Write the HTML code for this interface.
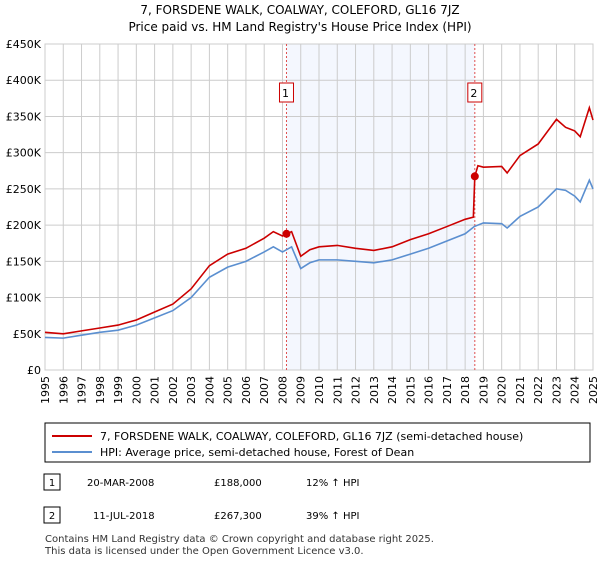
<!DOCTYPE html>
<html><head><meta charset="utf-8"><style>
body{margin:0;background:#fff;font-family:"Liberation Sans","DejaVu Sans",sans-serif;}
svg text{font-family:"DejaVu Sans","Liberation Sans",sans-serif;}
</style></head><body>
<svg id="c" width="600" height="560">
<text x="300" y="14" text-anchor="middle" font-size="12">7, FORSDENE WALK, COALWAY, COLEFORD, GL16 7JZ</text>
<text x="300" y="31" text-anchor="middle" font-size="12">Price paid vs. HM Land Registry's House Price Index (HPI)</text>
<g id="plot"></g>
<rect x="45" y="423" width="545" height="39" fill="#fff" stroke="#000" stroke-width="1"/>
<line x1="52" y1="436" x2="92" y2="436" stroke="#cc0000" stroke-width="2"/>
<text x="100" y="440" font-size="11">7, FORSDENE WALK, COALWAY, COLEFORD, GL16 7JZ (semi-detached house)</text>
<line x1="52" y1="452" x2="92" y2="452" stroke="#5b8fd0" stroke-width="2"/>
<text x="100" y="456" font-size="11">HPI: Average price, semi-detached house, Forest of Dean</text>
<rect x="44" y="474" width="16" height="16" fill="#fff" stroke="#000"/>
<text x="52" y="486" font-size="10" text-anchor="middle">1</text>
<text x="87" y="486" font-size="10">20-MAR-2008</text>
<text x="214" y="486" font-size="10">£188,000</text>
<text x="306" y="486" font-size="10">12% ↑ HPI</text>
<rect x="44" y="507" width="16" height="16" fill="#fff" stroke="#000"/>
<text x="52" y="519" font-size="10" text-anchor="middle">2</text>
<text x="93" y="519" font-size="10">11-JUL-2018</text>
<text x="214" y="519" font-size="10">£267,300</text>
<text x="306" y="519" font-size="10">39% ↑ HPI</text>
<text x="45" y="542" font-size="10" fill="#333">Contains HM Land Registry data © Crown copyright and database right 2025.</text>
<text x="45" y="554" font-size="10" fill="#333">This data is licensed under the Open Government Licence v3.0.</text>
</svg>
<script>
const hpiYears=[1995,1996,1997,1998,1999,2000,2001,2002,2003,2004,2005,2006,2007,2007.5,2008,2008.5,2009,2009.5,2010,2011,2012,2013,2014,2015,2016,2017,2018,2018.5,2019,2020,2020.3,2021,2022,2023,2023.5,2024,2024.3,2024.8,2025];
const hpiValues=[45,44,48,52,55,62,72,82,100,128,142,150,163,170,163,170,140,148,152,152,150,148,152,160,168,178,188,198,203,202,196,212,225,250,248,240,232,262,250];
const redYears=[1995,1996,1997,1998,1999,2000,2001,2002,2003,2004,2005,2006,2007,2007.5,2008,2008.22,2008.5,2009,2009.5,2010,2011,2012,2013,2014,2015,2016,2017,2018,2018.45,2018.53,2018.7,2019,2020,2020.3,2021,2022,2023,2023.5,2024,2024.3,2024.8,2025];
const redValues=[52,50,54,58,62,69,80,91,112,144,160,168,182,191,185,188,191,157,166,170,172,168,165,170,180,188,198,208,211,267.3,282,280,281,272,296,312,346,335,330,322,362,345];
const saleYears=[2008.22,2018.53];
const saleValues=[188,267.3];
const saleLabels=["1","2"];
const yTicks=[0,50,100,150,200,250,300,350,400,450];
const yTickLabels=["£0","£50K","£100K","£150K","£200K","£250K","£300K","£350K","£400K","£450K"];
const xTicks=[1995,1996,1997,1998,1999,2000,2001,2002,2003,2004,2005,2006,2007,2008,2009,2010,2011,2012,2013,2014,2015,2016,2017,2018,2019,2020,2021,2022,2023,2024,2025];
const X0=45,X1=593,Y0=370,Y1=44;
const xs=y=>X0+(y-1995)/30*(X1-X0);
const ys=v=>Y0-v/450*(Y0-Y1);
const NS="http://www.w3.org/2000/svg";
const g=document.getElementById('plot');
function mk(t,a){const e=document.createElementNS(NS,t);for(const k in a)e.setAttribute(k,a[k]);g.appendChild(e);return e;}
const shade=mk('rect',{x:xs(saleYears[0]),y:Y1,width:xs(saleYears[1])-xs(saleYears[0]),height:Y0-Y1,fill:'#f4f7fe'});


yTicks.forEach((v,i)=>{
 const l=mk('line',{x1:X0,x2:X1,y1:ys(v),y2:ys(v),stroke:'#ccc'});
 
 
 const t=mk('text',{x:X0-4,y:ys(v)+4,'text-anchor':'end','font-size':'11'});
 t.textContent=yTickLabels[i];
 
 
});
xTicks.forEach(y=>{
 const l=mk('line',{x1:xs(y),x2:xs(y),y1:Y1,y2:Y0,stroke:'#ccc'});
 
 
 const t=mk('text',{x:0,y:0,'text-anchor':'end','font-size':'11',transform:`translate(${xs(y)+4},${Y0+6}) rotate(-90)`});
 t.textContent=y;
 
 
});
const border=mk('rect',{x:X0,y:Y1,width:X1-X0,height:Y0-Y1,fill:'none',stroke:'#ccc'});


saleYears.forEach((y,i)=>{
 const l=mk('line',{x1:xs(y),x2:xs(y),y1:Y1,y2:Y0,stroke:'#e05050','stroke-dasharray':'2,2'});
 
 
 const r=mk('rect',{x:xs(y)-7,y:83,width:14,height:19,fill:'#fff',stroke:'#cc0000'});
 
 
 const t=mk('text',{x:xs(y)-1,y:97,'text-anchor':'middle','font-size':'11'});
 t.textContent=saleLabels[i];
 
 
});
const hp=mk('polyline',{points:hpiYears.map((y,i)=>xs(y)+','+ys(hpiValues[i])).join(' '),fill:'none',stroke:'#5b8fd0','stroke-width':'1.6'});


const rp=mk('polyline',{points:redYears.map((y,i)=>xs(y)+','+ys(redValues[i])).join(' '),fill:'none',stroke:'#cc0000','stroke-width':'1.6'});


saleYears.forEach((y,i)=>{
 const c=mk('circle',{cx:xs(y),cy:ys(saleValues[i]),r:4,fill:'#cc0000'});
 
 
});
</script>
</body></html>
